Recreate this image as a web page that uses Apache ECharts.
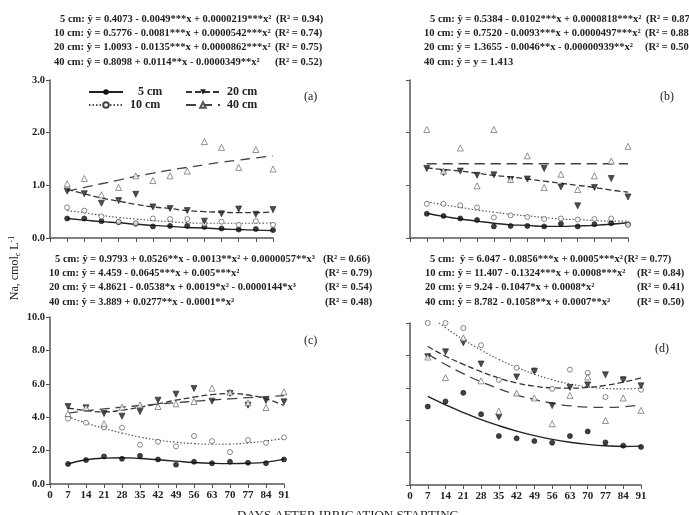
<!DOCTYPE html>
<html>
<head>
<meta charset="utf-8">
<script src="https://cdn.jsdelivr.net/npm/echarts@6/dist/echarts.min.js"></script>
<style>
  html, body { margin: 0; padding: 0; background: #fff; }
  #chart { width: 689px; height: 515px; }
</style>
</head>
<body>
<div id="chart"></div>
<script>
// dias apos inicio da irrigacao
const days = [7, 14, 21, 28, 35, 42, 49, 56, 63, 70, 77, 84, 91];
const depths = ['5 cm', '10 cm', '20 cm', '40 cm'];

// (a) observado / ajustado
const obsA5 = [0.37, 0.37, 0.32, 0.30, 0.27, 0.22, 0.23, 0.23, 0.21, 0.18, 0.16, 0.17, 0.15];
const obsA10 = [0.58, 0.52, 0.41, 0.31, 0.28, 0.37, 0.36, 0.36, 0.27, 0.31, 0.25, 0.32, 0.25];
const obsA20 = [0.89, 0.84, 0.66, 0.71, 0.83, 0.59, 0.56, 0.52, 0.32, 0.46, 0.55, 0.45, 0.54];
const obsA40 = [1.03, 1.13, 0.82, 0.96, 1.18, 1.09, 1.18, 1.27, 1.83, 1.72, 1.34, 1.68, 1.31];
const fitA5 = [0.37, 0.34, 0.31, 0.29, 0.26, 0.24, 0.22, 0.20, 0.19, 0.17, 0.16, 0.15, 0.14];
const fitA10 = [0.52, 0.48, 0.43, 0.39, 0.36, 0.33, 0.31, 0.29, 0.28, 0.28, 0.28, 0.28, 0.29];
const fitA20 = [0.92, 0.84, 0.76, 0.70, 0.64, 0.59, 0.56, 0.52, 0.50, 0.49, 0.48, 0.48, 0.50];
const fitA40 = [0.89, 0.96, 1.03, 1.10, 1.17, 1.23, 1.29, 1.34, 1.39, 1.44, 1.48, 1.52, 1.56];

// (b)
const obsB5 = [0.46, 0.42, 0.37, 0.34, 0.22, 0.23, 0.23, 0.22, 0.27, 0.22, 0.26, 0.28, 0.26];
const obsB10 = [0.65, 0.65, 0.62, 0.58, 0.39, 0.43, 0.40, 0.36, 0.37, 0.35, 0.36, 0.37, 0.25];
const obsB20 = [1.32, 1.24, 1.27, 1.19, 1.20, 1.11, 1.12, 1.32, 0.97, 0.61, 0.96, 1.13, 0.78];
const obsB40 = [2.06, 1.27, 1.71, 0.99, 2.06, 1.11, 1.56, 0.96, 1.21, 0.92, 1.18, 1.46, 1.74];
const fitB5 = [0.47, 0.41, 0.36, 0.32, 0.28, 0.25, 0.24, 0.22, 0.22, 0.23, 0.24, 0.26, 0.29];
const fitB10 = [0.69, 0.63, 0.58, 0.53, 0.49, 0.45, 0.42, 0.39, 0.36, 0.35, 0.33, 0.32, 0.32];
const fitB20 = [1.33, 1.30, 1.27, 1.23, 1.19, 1.16, 1.12, 1.08, 1.04, 1.00, 0.96, 0.91, 0.87];
const fitB40 = [1.41, 1.41, 1.41, 1.41, 1.41, 1.41, 1.41, 1.41, 1.41, 1.41, 1.41, 1.41, 1.41];

// (c)
const obsC5 = [1.20, 1.43, 1.65, 1.51, 1.69, 1.47, 1.16, 1.33, 1.24, 1.33, 1.27, 1.25, 1.47];
const obsC10 = [3.92, 3.67, 3.39, 3.37, 2.35, 2.53, 2.25, 2.87, 2.57, 1.91, 2.63, 2.47, 2.79];
const obsC20 = [4.64, 4.56, 4.22, 4.06, 4.34, 5.02, 5.38, 5.72, 4.96, 5.42, 4.72, 5.00, 4.92];
const obsC40 = [4.22, 4.58, 3.61, 4.60, 4.74, 4.64, 4.80, 4.94, 5.74, 5.50, 4.86, 4.58, 5.52];
const fitC5 = [1.20, 1.45, 1.55, 1.57, 1.53, 1.45, 1.37, 1.29, 1.24, 1.22, 1.24, 1.31, 1.49];
const fitC10 = [4.03, 3.65, 3.33, 3.05, 2.81, 2.63, 2.50, 2.42, 2.38, 2.39, 2.46, 2.57, 2.73];
const fitC20 = [4.55, 4.40, 4.32, 4.42, 4.60, 4.80, 5.02, 5.20, 5.35, 5.42, 5.33, 5.10, 4.70];
const fitC40 = [4.25, 4.38, 4.50, 4.60, 4.70, 4.78, 4.87, 4.95, 5.03, 5.10, 5.17, 5.23, 5.29];

// (d)
const obsD5 = [4.84, 5.16, 5.69, 4.37, 3.02, 2.88, 2.71, 2.61, 3.02, 3.31, 2.63, 2.43, 2.35];
const obsD10 = [10.0, 10.0, 9.69, 8.63, 6.49, 7.24, 7.08, 5.94, 7.12, 6.92, 5.43, 6.55, 5.88];
const obsD20 = [7.92, 8.22, 8.78, 7.47, 4.18, 6.67, 7.02, 4.90, 6.02, 6.18, 6.80, 6.49, 6.12];
const obsD40 = [7.90, 6.63, 9.08, 6.43, 4.55, 5.67, 5.37, 3.78, 5.53, 6.67, 3.98, 5.37, 4.61];
const fitD5 = [5.47, 4.95, 4.47, 4.04, 3.66, 3.33, 3.05, 2.82, 2.64, 2.51, 2.42, 2.38, 2.40];
const fitD10 = [10.52, 9.71, 8.98, 8.33, 7.75, 7.26, 6.84, 6.50, 6.24, 6.06, 5.96, 5.93, 5.98];
const fitD20 = [8.55, 7.95, 7.45, 7.00, 6.60, 6.30, 6.10, 6.00, 5.98, 6.02, 6.15, 6.35, 6.62];
const fitD40 = [8.08, 7.44, 6.87, 6.37, 5.94, 5.57, 5.28, 5.05, 4.89, 4.81, 4.79, 4.83, 4.95];

// equacoes
const eqA = ['5 cm: ŷ = 0.4073 - 0.0049***x + 0.0000219***x²', '10 cm: ŷ = 0.5776 - 0.0081***x + 0.0000542***x²', '20 cm: ŷ = 1.0093 - 0.0135***x + 0.0000862***x²', '40 cm: ŷ = 0.8098 + 0.0114**x - 0.0000349**x²'];
const r2A = ['(R² = 0.94)', '(R² = 0.74)', '(R² = 0.75)', '(R² = 0.52)'];
const eqB = ['5 cm: ŷ = 0.5384 - 0.0102***x + 0.0000818***x²', '10 cm: ŷ = 0.7520 - 0.0093***x + 0.0000497***x²', '20 cm: ŷ = 1.3655 - 0.0046**x - 0.00000939**x²', '40 cm: ŷ = y = 1.413'];
const r2B = ['(R² = 0.87)', '(R² = 0.88)', '(R² = 0.50)', ''];
const eqC = ['5 cm: ŷ = 0.9793 + 0.0526**x - 0.0013**x² + 0.0000057**x³', '10 cm: ŷ = 4.459 - 0.0645***x + 0.005***x²', '20 cm: ŷ = 4.8621 - 0.0538*x + 0.0019*x² - 0.0000144*x³', '40 cm: ŷ = 3.889 + 0.0277**x - 0.0001**x²'];
const r2C = ['(R² = 0.66)', '(R² = 0.79)', '(R² = 0.54)', '(R² = 0.48)'];
const eqD = ['5 cm:  ŷ = 6.047 - 0.0856***x + 0.0005***x²', '10 cm: ŷ = 11.407 - 0.1324***x + 0.0008***x²', '20 cm: ŷ = 9.24 - 0.1047*x + 0.0008*x²', '40 cm: ŷ = 8.782 - 0.1058**x + 0.0007**x²'];
const r2D = ['(R² = 0.77)', '(R² = 0.84)', '(R² = 0.41)', '(R² = 0.50)'];

const obs = [[obsA5, obsA10, obsA20, obsA40], [obsB5, obsB10, obsB20, obsB40], [obsC5, obsC10, obsC20, obsC40], [obsD5, obsD10, obsD20, obsD40]];
const fits = [[fitA5, fitA10, fitA20, fitA40], [fitB5, fitB10, fitB20, fitB40], [fitC5, fitC10, fitC20, fitC40], [fitD5, fitD10, fitD20, fitD40]];

const serif = 'Liberation Serif';
const axisColor = '#555';

// estilo de cada profundidade (legSym = simbolo da legenda, sym/fill = simbolo dos pontos)
const sty = [
  { legSym: 'circle', sym: 'circle', rotate: 0, size: 5, color: '#111', fill: '#111', line: 'solid', lineColor: '#222', lw: 1.4 },
  { legSym: 'emptyCircle', sym: 'circle', rotate: 0, size: 5, color: '#444', fill: '#fff', line: [1.5, 2], lineColor: '#555', lw: 1.2 },
  { legSym: 'triangle', sym: 'triangle', rotate: 180, size: 6, color: '#222', fill: '#222', line: [6, 3], lineColor: '#333', lw: 1.3 },
  { legSym: 'emptyTriangle', sym: 'triangle', rotate: 0, size: 6, color: '#555', fill: '#fff', line: [10, 6], lineColor: '#444', lw: 1.3 }
];

let chart = echarts.init(document.getElementById('chart'));

const grids = [
  { left: 50, top: 80, width: 223, height: 158 },
  { left: 410, top: 80, width: 218, height: 158 },
  { left: 50, top: 317, width: 234, height: 167 },
  { left: 410, top: 323, width: 231, height: 162 }
];

function xAx(gi, labels) {
  return {
    type: 'value', gridIndex: gi, min: 0, max: 91, interval: 7,
    axisLine: { show: true, lineStyle: { color: axisColor, width: 1.5 } },
    axisTick: { show: true, length: 4, lineStyle: { color: axisColor } },
    axisLabel: { show: labels, margin: 6, color: '#222', fontFamily: serif, fontWeight: 'bold', fontSize: 11 },
    splitLine: { show: false }
  };
}
function yAx(gi, max, interval, labels) {
  return {
    type: 'value', gridIndex: gi, min: 0, max: max, interval: interval,
    axisLine: { show: true, lineStyle: { color: axisColor, width: 1.5 } },
    axisTick: { show: true, length: 4, lineStyle: { color: axisColor } },
    axisLabel: { show: labels, margin: 5, color: '#222', fontFamily: serif, fontWeight: 'bold', fontSize: 10.5,
      formatter: v => v.toFixed(1) },
    splitLine: { show: false }
  };
}

let series = [];
for (let p = 0; p < 4; p++) {
  for (let d = 0; d < 4; d++) {
    const s = sty[d];
    series.push({
      name: depths[d], type: 'line', xAxisIndex: p, yAxisIndex: p,
      data: days.map((x, i) => [x, fits[p][d][i]]),
      smooth: true, showSymbol: false, symbol: s.legSym, symbolRotate: s.rotate,
      itemStyle: { color: s.color },
      lineStyle: { color: s.lineColor, width: s.lw, type: s.line },
      z: 2, silent: true
    });
  }
  for (let d = 0; d < 4; d++) {
    const s = sty[d];
    series.push({
      name: depths[d], type: 'scatter', xAxisIndex: p, yAxisIndex: p,
      data: days.map((x, i) => [x, obs[p][d][i]]),
      symbol: s.sym, symbolRotate: s.rotate, symbolSize: s.size,
      itemStyle: { color: s.fill, borderColor: s.color, borderWidth: 0.8 },
      z: 3
    });
  }
}

// legendas do painel (a)
const legPos = [[83, 81, 8], [83, 94, 0], [180, 81, 0], [180, 94, 0]];
const legends = depths.map((n, i) => ({
  data: [n], left: legPos[i][0], top: legPos[i][1],
  itemWidth: 34, itemHeight: 7, selectedMode: false,
  textStyle: { fontFamily: serif, fontWeight: 'bold', fontSize: 12, color: '#222', padding: [0, 0, 0, 2 + legPos[i][2]] }
}));

// textos das equacoes
let graphics = [];
function eqBlock(eqs, r2s, eqX, r2X, ys) {
  for (let i = 0; i < 4; i++) {
    graphics.push({ type: 'text', left: eqX[i], top: ys[i] - 7,
      style: { text: eqs[i], fontFamily: serif, fontWeight: 'bold', fontSize: 10.5, fill: '#222' } });
    if (r2s[i]) graphics.push({ type: 'text', left: r2X[i], top: ys[i] - 7,
      style: { text: r2s[i], fontFamily: serif, fontWeight: 'bold', fontSize: 10.5, fill: '#222' } });
  }
}
eqBlock(eqA, r2A, [60, 54, 54, 54], [276, 275, 275, 275], [21, 35, 49, 64]);
eqBlock(eqB, r2B, [430, 424, 424, 424], [646, 645, 645, 645], [21, 35, 49, 64]);
eqBlock(eqC, r2C, [55, 49, 49, 49], [323, 325, 325, 325], [261, 275, 289, 304]);
eqBlock(eqD, r2D, [430, 425, 425, 425], [624, 637, 637, 637], [261, 275, 289, 304]);

const tags = [['(a)', 304, 91], ['(b)', 660, 91], ['(c)', 304, 335], ['(d)', 655, 343]];
tags.forEach(t => graphics.push({ type: 'text', left: t[1], top: t[2],
  style: { text: t[0], fontFamily: serif, fontSize: 12, fill: '#222' } }));

// titulo eixo y
graphics.push({
  type: 'text', x: 15, y: 268, rotation: Math.PI / 2,
  style: {
    text: '{n|Na, cmol}{s|c}{n| L}{p|-1}', align: 'center', verticalAlign: 'middle',
    rich: {
      n: { fontFamily: serif, fontSize: 12, fill: '#222', lineHeight: 14 },
      s: { fontFamily: serif, fontSize: 8, fill: '#222', verticalAlign: 'bottom', lineHeight: 14 },
      p: { fontFamily: serif, fontSize: 8, fill: '#222', verticalAlign: 'top', lineHeight: 14 }
    }
  }
});
// titulo eixo x
graphics.push({ type: 'text', left: 237, top: 509,
  style: { text: 'DAYS AFTER IRRIGATION STARTING', fontFamily: serif, fontSize: 13, fill: '#222' } });

const option = {
  animation: false,
  backgroundColor: '#fff',
  grid: grids,
  xAxis: [xAx(0, false), xAx(1, false), xAx(2, true), xAx(3, true)],
  yAxis: [yAx(0, 3, 1, true), yAx(1, 3, 1, false), yAx(2, 10, 2, true), yAx(3, 10, 2, false)],
  legend: legends,
  series: series,
  graphic: graphics
};
chart.setOption(option);
</script>
</body>
</html>
